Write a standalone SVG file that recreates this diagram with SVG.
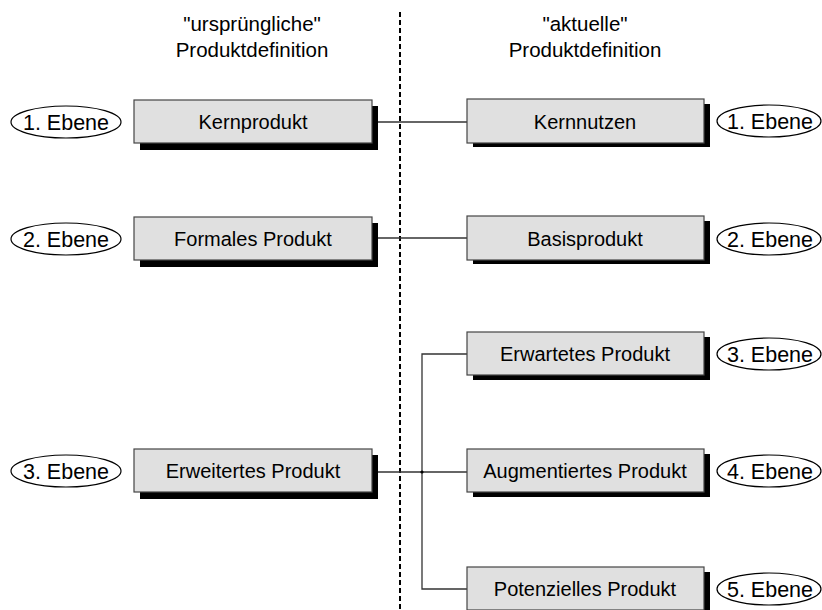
<svg xmlns="http://www.w3.org/2000/svg" width="822" height="610" viewBox="0 0 822 610">
  <style>
    text { font-family: "Liberation Sans", Arial, sans-serif; font-size: 20px; fill: #000; text-anchor: middle; }
    text.head { font-size: 20.5px; }
    text.lvl { font-size: 21.5px; }
    .box { fill: #e0e0e0; stroke: #444; stroke-width: 1.2; }
    .shadow { fill: #000; }
    .tag { fill: #fff; stroke: #000; stroke-width: 1.2; }
    .conn { fill: none; stroke: #333; stroke-width: 1.3; }
    .divider { stroke: #000; stroke-width: 2; stroke-dasharray: 5 3; }
  </style>

  <!-- column headings -->
  <g id="heading-left">
    <text class="head" x="252" y="31">"ursprüngliche"</text>
    <text class="head" x="252" y="57">Produktdefinition</text>
  </g>
  <g id="heading-right">
    <text class="head" x="585" y="31">"aktuelle"</text>
    <text class="head" x="585" y="57">Produktdefinition</text>
  </g>

  <!-- vertical divider -->
  <line class="divider" x1="400" y1="12" x2="400" y2="610"/>

  <!-- connectors -->
  <g id="connectors">
    <line class="conn" x1="372" y1="122" x2="467" y2="122"/>
    <line class="conn" x1="372" y1="238" x2="467" y2="238"/>
    <line class="conn" x1="372" y1="472" x2="467" y2="472"/>
    <polyline class="conn" points="467,354 422,354 422,589 467,589"/>
    <circle cx="422" cy="472" r="1.6" fill="#000"/>
  </g>

  <!-- left column -->
  <g id="kernprodukt">
    <rect class="shadow" x="140" y="106" width="238" height="44"/>
    <rect class="box" x="134" y="100" width="238" height="43"/>
    <text x="253" y="129">Kernprodukt</text>
  </g>
  <g id="formales-produkt">
    <rect class="shadow" x="140" y="223" width="238" height="44"/>
    <rect class="box" x="134" y="217" width="238" height="43"/>
    <text x="253" y="246">Formales Produkt</text>
  </g>
  <g id="erweitertes-produkt">
    <rect class="shadow" x="140" y="455" width="238" height="44"/>
    <rect class="box" x="134" y="449" width="238" height="43"/>
    <text x="253" y="478">Erweitertes Produkt</text>
  </g>

  <!-- right column -->
  <g id="kernnutzen">
    <rect class="shadow" x="473" y="104" width="237" height="43"/>
    <rect class="box" x="467" y="99" width="237" height="44"/>
    <text x="585" y="129">Kernnutzen</text>
  </g>
  <g id="basisprodukt">
    <rect class="shadow" x="473" y="221" width="237" height="43"/>
    <rect class="box" x="467" y="216" width="237" height="44"/>
    <text x="585" y="246">Basisprodukt</text>
  </g>
  <g id="erwartetes-produkt">
    <rect class="shadow" x="473" y="337" width="237" height="43"/>
    <rect class="box" x="467" y="332" width="237" height="43"/>
    <text x="585" y="361">Erwartetes Produkt</text>
  </g>
  <g id="augmentiertes-produkt">
    <rect class="shadow" x="473" y="454" width="237" height="43"/>
    <rect class="box" x="467" y="449" width="237" height="43"/>
    <text x="585" y="478">Augmentiertes Produkt</text>
  </g>
  <g id="potenzielles-produkt">
    <rect class="shadow" x="473" y="572" width="237" height="43"/>
    <rect class="box" x="467" y="567" width="237" height="43"/>
    <text x="585" y="596">Potenzielles Produkt</text>
  </g>

  <!-- level tags, left -->
  <g id="ebene-l1">
    <ellipse class="tag" cx="66" cy="122" rx="55" ry="16"/>
    <text class="lvl" x="66" y="129.5">1. Ebene</text>
  </g>
  <g id="ebene-l2">
    <ellipse class="tag" cx="66" cy="239" rx="55" ry="16"/>
    <text class="lvl" x="66" y="246.5">2. Ebene</text>
  </g>
  <g id="ebene-l3">
    <ellipse class="tag" cx="66" cy="471" rx="55" ry="16"/>
    <text class="lvl" x="66" y="478.5">3. Ebene</text>
  </g>

  <!-- level tags, right -->
  <g id="ebene-r1">
    <ellipse class="tag" cx="769" cy="121" rx="52" ry="16"/>
    <text class="lvl" x="770" y="128.5">1. Ebene</text>
  </g>
  <g id="ebene-r2">
    <ellipse class="tag" cx="769" cy="239" rx="52" ry="16"/>
    <text class="lvl" x="770" y="246.5">2. Ebene</text>
  </g>
  <g id="ebene-r3">
    <ellipse class="tag" cx="769" cy="354" rx="52" ry="16"/>
    <text class="lvl" x="770" y="361.5">3. Ebene</text>
  </g>
  <g id="ebene-r4">
    <ellipse class="tag" cx="769" cy="471" rx="52" ry="16"/>
    <text class="lvl" x="770" y="478.5">4. Ebene</text>
  </g>
  <g id="ebene-r5">
    <ellipse class="tag" cx="769" cy="589" rx="52" ry="16"/>
    <text class="lvl" x="770" y="596.5">5. Ebene</text>
  </g>
</svg>
